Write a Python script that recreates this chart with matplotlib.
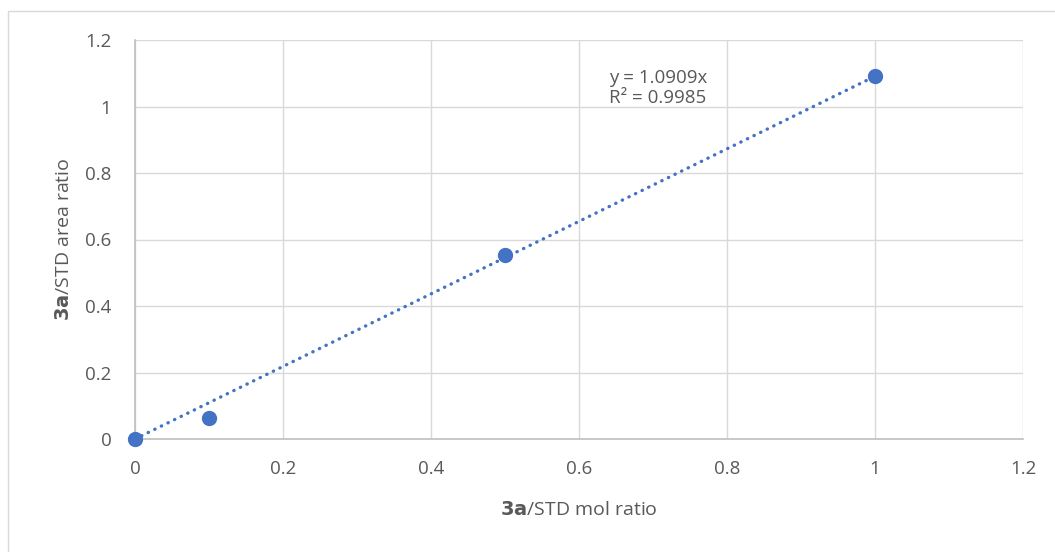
import matplotlib.pyplot as plt
from matplotlib.patches import Rectangle

mol_ratio = [0, 0.1, 0.5, 1.0]
area_ratio = [0.0, 0.063, 0.553, 1.092]
slope = 1.0909
r2 = 0.9985
ticks = [0, 0.2, 0.4, 0.6, 0.8, 1, 1.2]
tick_labels = ['0', '0.2', '0.4', '0.6', '0.8', '1', '1.2']

plt.rcParams['font.family'] = ['Open Sans', 'DejaVu Sans']
blue = '#4472C4'
grey = '#595959'

fig = plt.figure(figsize=(10.55, 5.52), dpi=100)
fig.patches.append(Rectangle((8 / 1055, -0.1), 1.2, 1 - 11 / 552 + 0.1,
                             transform=fig.transFigure, fill=False,
                             edgecolor='#D9D9D9', linewidth=1))
ax = fig.add_axes([135 / 1055, 1 - 439 / 552, 888 / 1055, 399 / 552])

ax.plot([0, 1], [0, slope * 1], linestyle=(0, (0.1, 2.1)), color=blue, linewidth=2.4,
        dash_capstyle='round', zorder=2)
ax.plot(mol_ratio, area_ratio, 'o', color=blue, markersize=10, zorder=3, clip_on=False)

ax.set_xlim(0, 1.2)
ax.set_ylim(0, 1.2)
ax.set_xticks(ticks)
ax.set_xticklabels(tick_labels)
ax.set_yticks(ticks)
ax.set_yticklabels(tick_labels)
ax.grid(True, color='#D9D9D9', linewidth=1)
ax.set_axisbelow(True)
for s in ['top', 'right']:
    ax.spines[s].set_visible(False)
for s in ['left', 'bottom']:
    ax.spines[s].set_color('#BFBFBF')
    ax.spines[s].set_linewidth(1.2)
ax.tick_params(length=0, labelsize=13.5, colors=grey)
ax.tick_params(axis='y', pad=17)
ax.tick_params(axis='x', pad=15)

ax.set_xlabel(r'$\bf{3a}$/STD mol ratio', fontsize=14, color=grey, labelpad=17)
ax.set_ylabel(r'$\bf{3a}$/STD area ratio', fontsize=14, color=grey, labelpad=9)

ax.text(0.64, 1.055, 'y = %.4fx\nR² = %.4f' % (slope, r2), fontsize=13.5, color=grey,
        ha='left', va='center', linespacing=1.15)

fig.savefig('out.png')
